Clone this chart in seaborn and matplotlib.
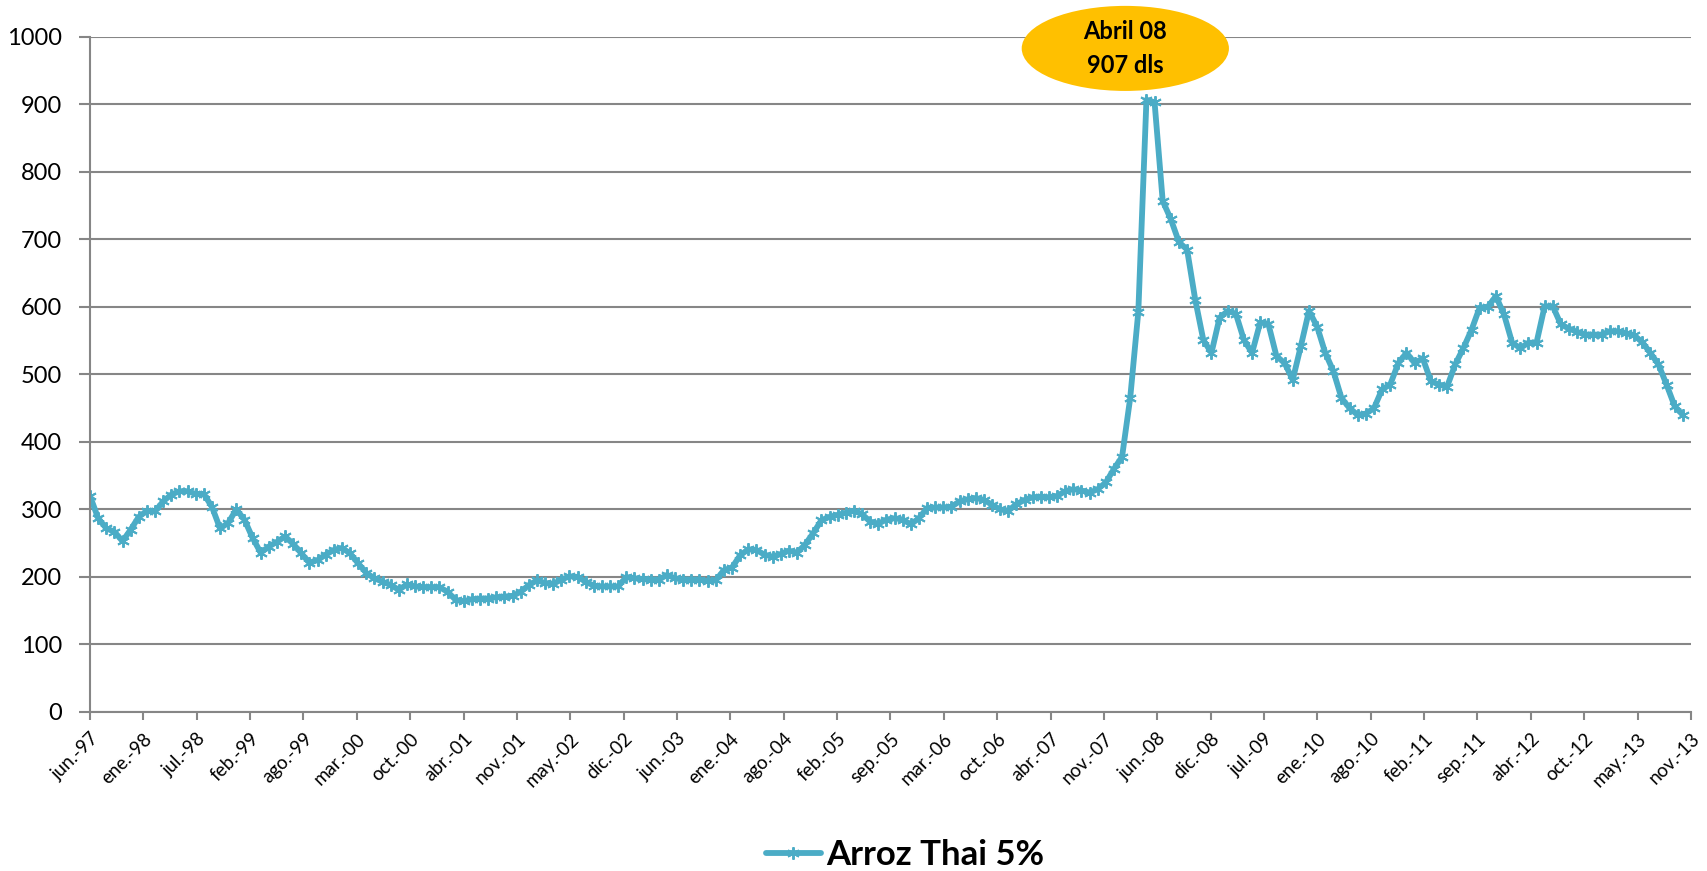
import numpy as np
import pandas as pd
import seaborn as sns
import matplotlib.pyplot as plt
from matplotlib.patches import Ellipse

# monthly price of Thai rice 5% (dls/ton), jun-97 onwards
precio = [320, 287, 272, 267, 253, 270, 289, 298, 297, 312, 322, 327, 327, 323, 323, 304,
          272, 280, 300, 285, 258, 236, 245, 252, 260, 249, 235, 221, 225, 233, 240, 243,
          235, 220, 206, 198, 193, 188, 181, 189, 186, 185, 185, 185, 178, 166, 164, 167,
          168, 168, 170, 171, 172, 178, 188, 195, 191, 190, 196, 201, 200, 193, 187, 186,
          186, 186, 200, 198, 197, 196, 196, 203, 198, 196, 196, 196, 194, 195, 210, 214,
          232, 241, 240, 233, 230, 234, 239, 236, 248, 265, 284, 289, 292, 295, 298, 293,
          282, 279, 285, 287, 285, 278, 287, 302, 303, 303, 304, 312, 315, 317, 314, 307,
          300, 298, 308, 314, 318, 319, 318, 320, 327, 330, 328, 325, 330, 340, 360, 378,
          465, 593, 907, 903, 757, 730, 696, 685, 611, 551, 532, 584, 594, 590, 551, 532,
          577, 575, 527, 517, 492, 542, 594, 571, 532, 505, 465, 450, 440, 442, 450, 478,
          485, 517, 532, 517, 524, 490, 485, 482, 515, 539, 566, 599, 600, 616, 589, 547,
          539, 547, 547, 601, 601, 574, 568, 563, 559, 559, 559, 564, 564, 561, 558, 548,
          532, 515, 485, 453, 440]

etiquetas = ['jun.-97', 'ene.-98', 'jul.-98', 'feb.-99', 'ago.-99', 'mar.-00', 'oct.-00',
             'abr.-01', 'nov.-01', 'may.-02', 'dic.-02', 'jun.-03', 'ene.-04', 'ago.-04',
             'feb.-05', 'sep.-05', 'mar.-06', 'oct.-06', 'abr.-07', 'nov.-07', 'jun.-08',
             'dic.-08', 'jul.-09', 'ene.-10', 'ago.-10', 'feb.-11', 'sep.-11', 'abr.-12',
             'oct.-12', 'may.-13', 'nov.-13']

serie = 'Arroz Thai 5%'
nota = 'Abril 08\n907 dls'
n_meses = 197  # jun-97 .. nov-13

df = pd.DataFrame({'mes': np.arange(len(precio)), 'precio': precio})

sns.set_style('white')
plt.rcParams['font.family'] = ['Lato', 'DejaVu Sans']
plt.rcParams['text.color'] = 'black'
plt.rcParams['xtick.labelcolor'] = 'black'
plt.rcParams['ytick.labelcolor'] = 'black'

fig = plt.figure(figsize=(17.08, 8.71), dpi=100)
ax = fig.add_axes([0.0527, 0.1826, 0.9373, 0.775])

color = '#4BACC6'
sns.lineplot(data=df, x='mes', y='precio', ax=ax, color=color, linewidth=4.2,
             marker=(6, 2, 0), markersize=9, markeredgewidth=1.4,
             markeredgecolor=color, label=serie, legend=False)

# axes look like the excel original
ax.set_xlim(0, n_meses)
ax.set_ylim(0, 1000)
ax.set_yticks(range(0, 1001, 100))
ax.set_xticks(np.linspace(0, n_meses, len(etiquetas)))
ax.set_xticklabels(etiquetas, rotation=45, ha='right', rotation_mode='anchor', fontsize=13.5)
ax.tick_params(axis='y', labelsize=17, length=8, width=1.5, color='#868686', pad=12,
               left=True)
ax.tick_params(axis='x', length=6, width=1.5, color='#868686', direction='out', pad=7,
               bottom=True)
ax.set_xlabel('')
ax.set_ylabel('')
ax.grid(axis='y', color='#868686', linewidth=1.5)
ax.set_axisbelow(True)
for s in ['top', 'right']:
    ax.spines[s].set_visible(False)
for s in ['left', 'bottom']:
    ax.spines[s].set_color('#868686')
    ax.spines[s].set_linewidth(1.5)

# yellow bubble over the April 08 peak
pico = int(np.argmax(precio))
elip = Ellipse((pico - 2.6, 983), width=25.5, height=126, facecolor='#FFC000',
               edgecolor='none', clip_on=False, zorder=5)
ax.add_patch(elip)
ax.text(pico - 2.6, 983, nota, ha='center', va='center', fontsize=17,
        fontweight='bold', linespacing=1.6, zorder=6, clip_on=False)

handles, labels = ax.get_legend_handles_labels()
fig.legend(handles, labels, loc='center', bbox_to_anchor=(905 / 1708, 1 - 855 / 871),
           frameon=False, prop={'size': 25, 'weight': 'bold'}, handlelength=1.6,
           handletextpad=0.15)

fig.savefig('out.png', dpi=100)
